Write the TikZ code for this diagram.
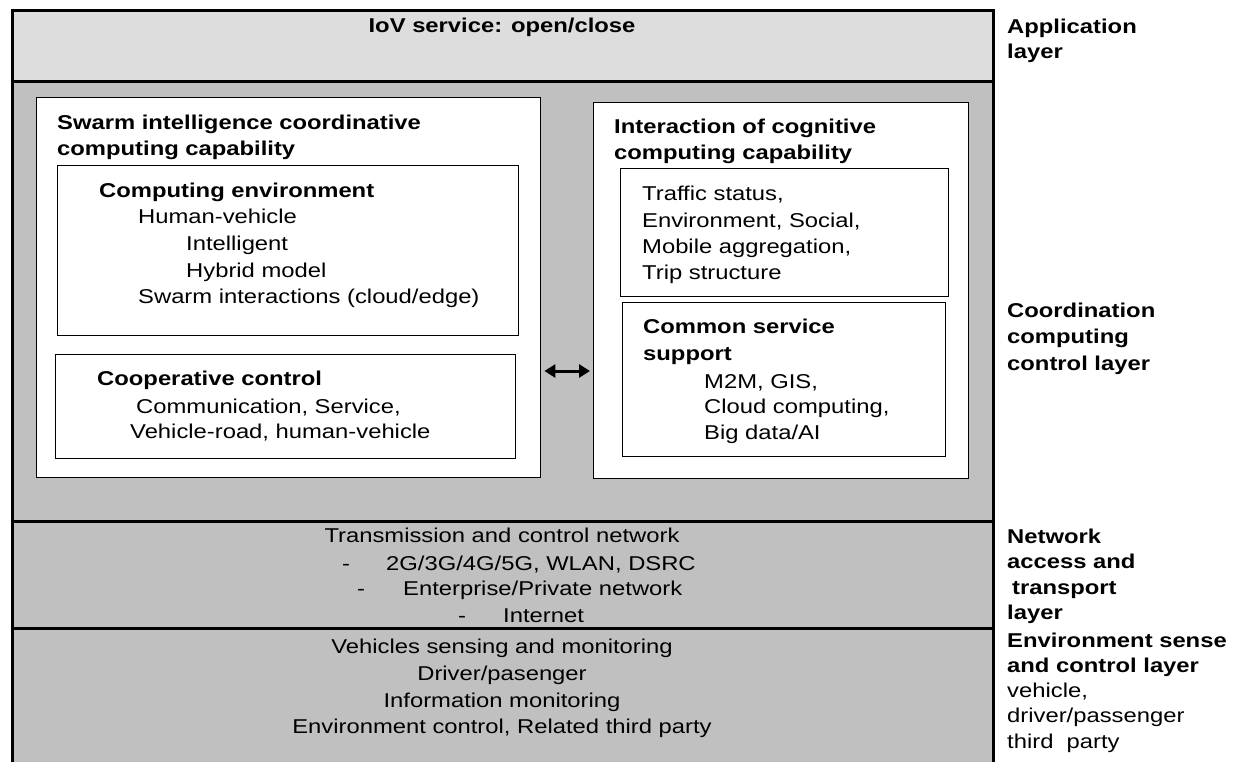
\documentclass[tikz,border=0pt]{standalone}
\usepackage{fontspec}
\setmainfont[FakeStretch=1.19]{Liberation Sans}
\usetikzlibrary{arrows.meta}
\definecolor{appgray}{HTML}{DDDDDD}
\definecolor{laygray}{HTML}{C0C0C0}
\begin{document}
\begin{tikzpicture}[x=1pt,y=-1pt,
  band/.style={draw=black, line width=3pt, inner sep=0pt, anchor=north west, fill=laygray},
  wbox/.style={draw=black, fill=white, line width=1.4pt, inner sep=0pt, anchor=north west},
  txt/.style={inner sep=0pt, anchor=base west, font=\fontsize{20}{26.5}\selectfont},
  btxt/.style={inner sep=0pt, anchor=base west, font=\fontsize{20}{26.5}\selectfont\bfseries},
  ctxt/.style={inner sep=0pt, anchor=base, font=\fontsize{20}{26.5}\selectfont},
  dblarrow/.style={line width=3pt, {Triangle[length=11pt,width=13pt]}-{Triangle[length=11pt,width=13pt]}}
]
\useasboundingbox (0,0) rectangle (1234,761);
\fill[white] (0,0) rectangle (1234,761);

% layer bands
\node[band, fill=appgray, minimum width=981pt, minimum height=71pt] (app) at (11,9) {};
\node[band, minimum width=981pt, minimum height=440pt] (coord) at (11,80) {};
\node[band, minimum width=981pt, minimum height=107pt] (net) at (11,520) {};
\node[band, minimum width=981pt, minimum height=160pt] (env) at (11,627) {};

% application layer
\node[btxt, anchor=base] (title) at (502,32) {IoV service: open/close};

% left big box
\node[wbox, minimum width=504pt, minimum height=380pt] (swarm) at (36,97) {};
\node[btxt] (sw1) at (57,129) {Swarm intelligence coordinative};
\node[btxt] (sw2) at (57,155) {computing capability};

\node[wbox, minimum width=461pt, minimum height=170pt] (compenv) at (57,165) {};
\node[btxt] (ce1) at (99,197) {Computing environment};
\node[txt] (ce2) at (138,223) {Human-vehicle};
\node[txt] (ce3) at (186,250) {Intelligent};
\node[txt] (ce4) at (186,277) {Hybrid model};
\node[txt] (ce5) at (138,303) {Swarm interactions (cloud/edge)};

\node[wbox, minimum width=460pt, minimum height=104pt] (coop) at (55,354) {};
\node[btxt] (cc1) at (97,385) {Cooperative control};
\node[txt] (cc2) at (136,413) {Communication, Service,};
\node[txt] (cc3) at (130,438) {Vehicle-road, human-vehicle};

% right big box
\node[wbox, minimum width=375pt, minimum height=376pt] (cog) at (593,102) {};
\node[btxt] (cg1) at (614,133) {Interaction of cognitive};
\node[btxt] (cg2) at (614,159) {computing capability};

\node[wbox, minimum width=328pt, minimum height=128pt] (traffic) at (620,168) {};
\node[txt] (tr1) at (642,200) {Traffic status,};
\node[txt] (tr2) at (642,227) {Environment, Social,};
\node[txt] (tr3) at (642,253) {Mobile aggregation,};
\node[txt] (tr4) at (642,279) {Trip structure};

\node[wbox, minimum width=323pt, minimum height=154pt] (common) at (622,302) {};
\node[btxt] (cs1) at (643,333) {Common service};
\node[btxt] (cs2) at (643,360) {support};
\node[txt] (cs3) at (704,388) {M2M, GIS,};
\node[txt] (cs4) at (704,413) {Cloud computing,};
\node[txt] (cs5) at (704,439) {Big data/AI};

% double arrow between the two capability boxes
\coordinate (arry) at (0,371);
\draw[dblarrow, shorten <=3pt, shorten >=3pt] (swarm.east |- arry) -- (cog.west |- arry);

% network layer
\node[ctxt] (nw1) at (502,542) {Transmission and control network};
\node[txt] (nw2d) at (342,570) {-};
\node[txt] (nw2) at (386,570) {2G/3G/4G/5G, WLAN, DSRC};
\node[txt] (nw3d) at (357,595) {-};
\node[txt] (nw3) at (403,595) {Enterprise/Private network};
\node[txt] (nw4d) at (458,622) {-};
\node[txt] (nw4) at (503,622) {Internet};

% environment layer
\node[ctxt] (ev1) at (502,653) {Vehicles sensing and monitoring};
\node[ctxt] (ev2) at (502,680) {Driver/pasenger};
\node[ctxt] (ev3) at (502,707) {Information monitoring};
\node[ctxt] (ev4) at (502,733) {Environment control, Related third party};

% right-hand layer labels
\node[btxt] (la1) at (1007,33) {Application};
\node[btxt] (la2) at (1007,58) {layer};
\node[btxt] (lc1) at (1007,317) {Coordination};
\node[btxt] (lc2) at (1007,343) {computing};
\node[btxt] (lc3) at (1007,370) {control layer};
\node[btxt] (ln1) at (1007,543) {Network};
\node[btxt] (ln2) at (1007,568) {access and};
\node[btxt] (ln3) at (1012,594) {transport};
\node[btxt] (ln4) at (1007,619) {layer};
\node[btxt] (le1) at (1007,647) {Environment sense};
\node[btxt] (le2) at (1007,672) {and control layer};
\node[txt] (le3) at (1007,697) {vehicle,};
\node[txt] (le4) at (1007,722) {driver/passenger};
\node[txt] (le5) at (1007,748) {third~ party};
\end{tikzpicture}
\end{document}
